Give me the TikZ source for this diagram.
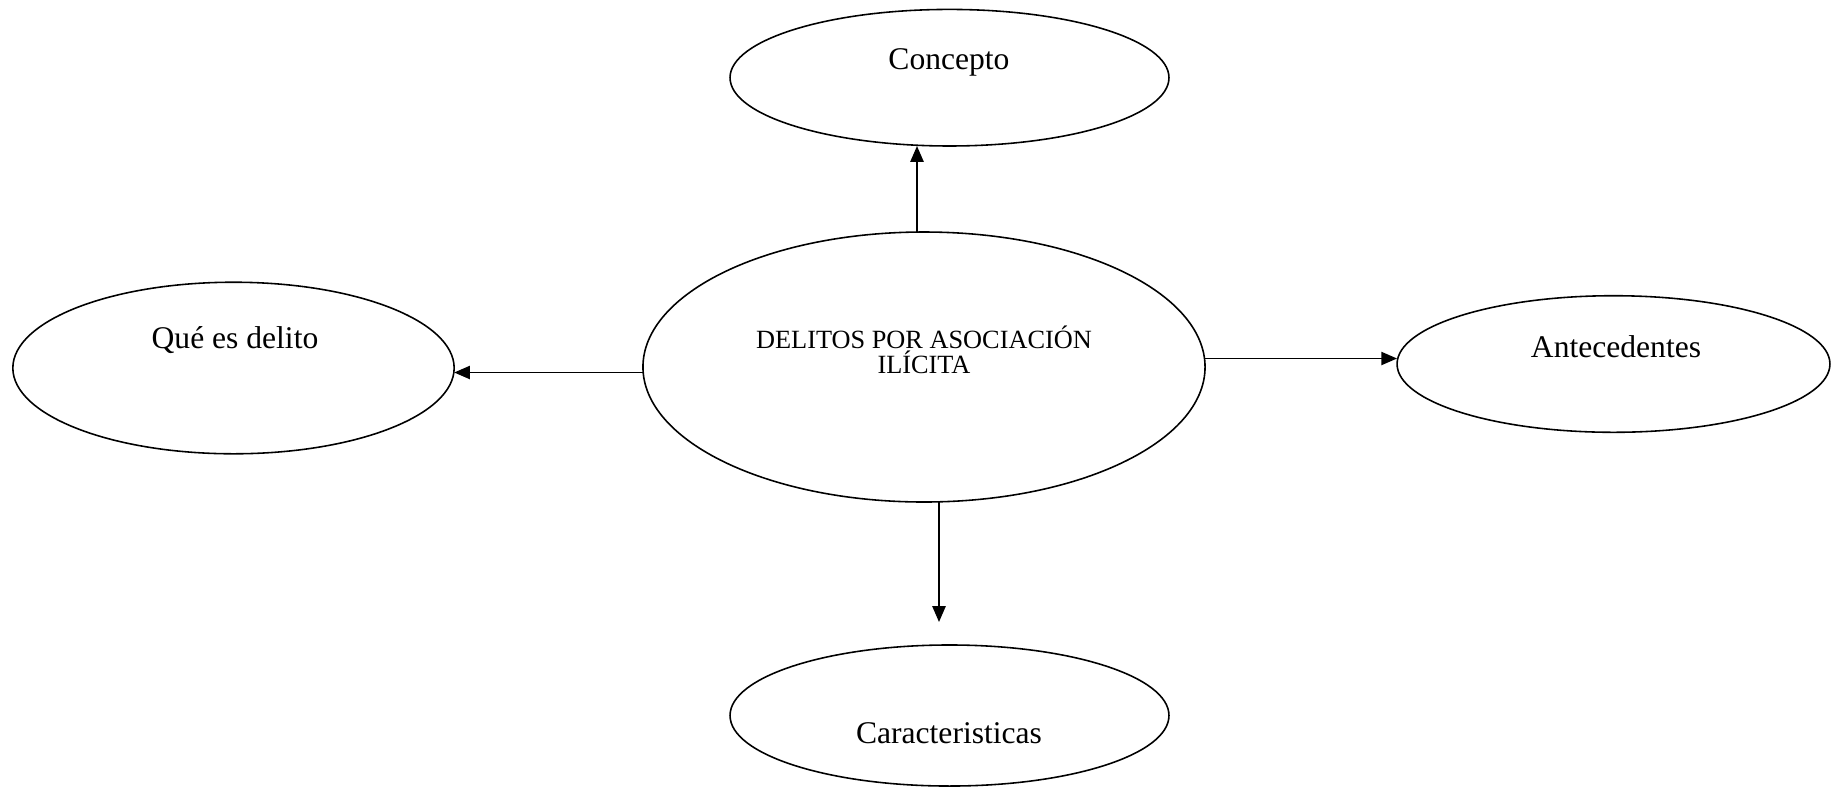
\documentclass[tikz,border=0pt]{standalone}
\usepackage{fontspec}
\setmainfont{Liberation Serif}
\usetikzlibrary{shapes.geometric,arrows.meta}
\begin{document}
\begin{tikzpicture}[x=0.38pt,y=-0.38pt,
  oval/.style={draw,ellipse,line width=0.6pt,inner sep=0pt,outer sep=0pt},
  lbl/.style={inner sep=0pt,font=\fontsize{12}{14}\selectfont},
  arr/.style={line width=0.7pt,-{Triangle[width=5pt,length=6pt]}}]
\useasboundingbox (0,0) rectangle (1831,787);
\node[oval,minimum width=166.8pt,minimum height=51.9pt] (concepto) at (949.5,77.7) {};
\node[oval,minimum width=213.6pt,minimum height=102.6pt] (central) at (924,367) {};
\node[oval,minimum width=167.7pt,minimum height=65.2pt] (que) at (233.5,368) {};
\node[oval,minimum width=164.5pt,minimum height=51.9pt] (ante) at (1613.5,364) {};
\node[oval,minimum width=166.8pt,minimum height=53.6pt] (carac) at (949.5,715.5) {};
\node[lbl] (tconcepto) at (949,62) {Concepto};
\node[inner sep=0pt,align=center,font=\fontsize{10}{9.5}\selectfont] (tcentral) at (924,350) {DELITOS POR ASOCIACIÓN\\ILÍCITA};
\node[lbl] (tque) at (235,340) {Qué es delito};
\node[lbl] (tante) at (1616,347) {Antecedentes};
\node[lbl] (tcarac) at (949,733) {Caracteristicas};
\coordinate (up) at (917,0);
\coordinate (lf) at (0,372.5);
\coordinate (rt) at (0,358.5);
\coordinate (dn) at (939,0);
\coordinate (dnend) at (939,622);
\draw[arr] (central.north -| up) -- (concepto.south -| up);
\draw[arr] (central.west |- lf) -- (que.east |- lf);
\draw[arr] (central.east |- rt) -- (ante.west |- rt);
\draw[arr] (central.south -| dn) -- (dnend);
\end{tikzpicture}
\end{document}
